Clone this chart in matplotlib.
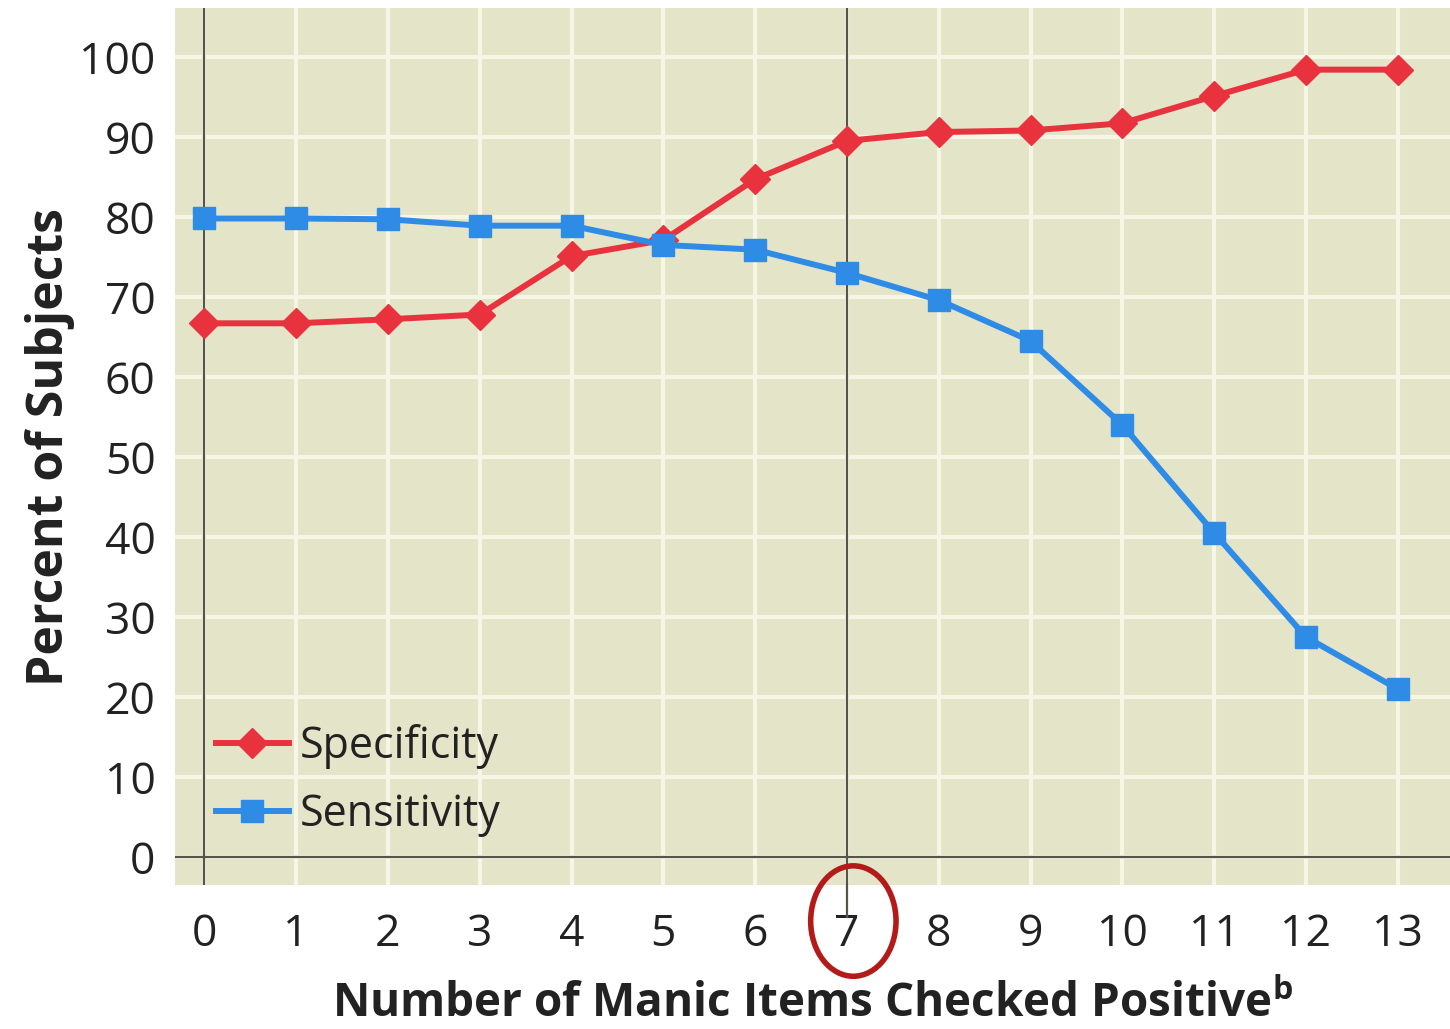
import numpy as np
import matplotlib
matplotlib.use("Agg")
import matplotlib.pyplot as plt
from matplotlib.patches import Ellipse

# values
items = list(range(14))
specificity = [66.7, 66.7, 67.2, 67.8, 75.1, 77.1, 84.7, 89.5, 90.6, 90.8, 91.7, 95.1, 98.4, 98.4]
sensitivity = [79.8, 79.8, 79.7, 78.9, 78.9, 76.5, 75.9, 73.0, 69.6, 64.5, 54.0, 40.5, 27.5, 21.0]
yticks = list(range(0, 101, 10))

plt.rcParams['font.family'] = ['Open Sans', 'DejaVu Sans']

fig = plt.figure(figsize=(14.5, 10.29), dpi=100)
ax = fig.add_axes([0.1207, 0.1399, 0.8793, 0.8523])
ax.set_facecolor('#e4e4c9')
for s in ax.spines.values():
    s.set_visible(False)

ax.set_xlim(-0.32, 13.57)
ax.set_ylim(-3.5, 106.1)

# grid
ax.set_xticks(items)
ax.set_yticks(yticks)
ax.grid(True, color='#f6f6e6', linewidth=3)
ax.set_axisbelow(True)
ax.tick_params(length=0, labelsize=32, pad=14, labelcolor='#222222')
ax.tick_params(axis='x', pad=20)

# dark reference lines
ax.axvline(0, color='#555548', lw=1.6, zorder=1)
ax.axvline(7, color='#555548', lw=1.6, zorder=1)
ax.axhline(0, color='#555548', lw=1.6, zorder=1)
ax.plot([7, 7], [-3.5, -7.5], color='#555548', lw=1.6, clip_on=False, zorder=1)

ax.plot(items, specificity, color='#e8333f', lw=4.3, marker='D', markersize=15,
        label='Specificity', zorder=3)
ax.plot(items, sensitivity, color='#2e8be6', lw=4.3, marker='s', markersize=16,
        label='Sensitivity', zorder=3)

leg = ax.legend(loc='lower left', bbox_to_anchor=(0.005, 0.015), frameon=False,
                fontsize=31, handlelength=1.7, handletextpad=0.25, labelspacing=0.55,
                borderaxespad=0.4)
for t in leg.get_texts():
    t.set_color('#222222')

ax.set_ylabel('Percent of Subjects', fontsize=36, fontweight='bold', labelpad=3,
              color='#222222')
ax.set_xlabel('Number of Manic Items Checked Positive$^{\\mathregular{b}}$', fontsize=33,
              fontweight='bold', labelpad=17, color='#222222')

# red circle around 7
circ = Ellipse((7.07, -8.0), 0.93, 13.8, fill=False, edgecolor='#b31b1b', lw=4,
               clip_on=False, zorder=5)
ax.add_patch(circ)

fig.savefig('out.png', dpi=100, facecolor='white')
